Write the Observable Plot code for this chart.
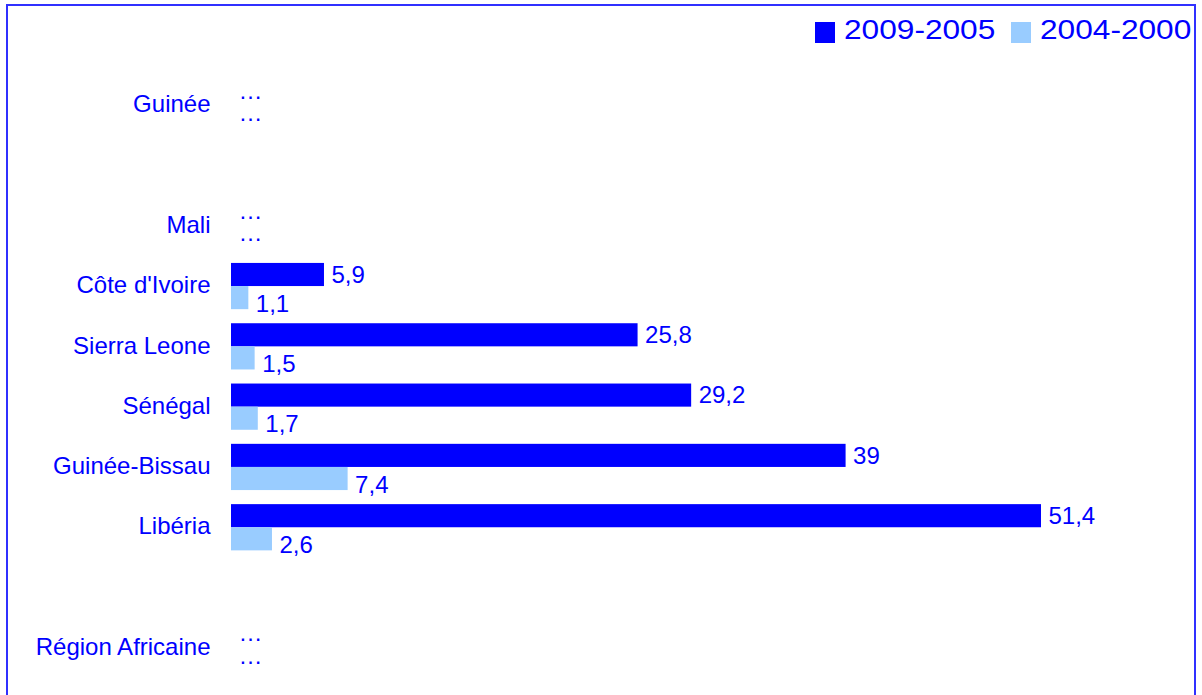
<!DOCTYPE html>
<html>
<head>
<meta charset="utf-8">
<script src="https://cdn.jsdelivr.net/npm/d3@7"></script>
<script src="https://cdn.jsdelivr.net/npm/@observablehq/plot@0.6"></script>
<style>
  html, body { margin: 0; padding: 0; background: #fff; }
  #wrap { position: relative; width: 1202px; height: 695px; overflow: hidden; font-family: "Liberation Sans", Arial, sans-serif; }
  #frame { position: absolute; left: 6px; top: 4px; width: 1186px; height: 720px; border: 2px solid #3030ff; }
  #chart { position: absolute; left: 0; top: 0; }
  .lg-sw { position: absolute; top: 22px; width: 20px; height: 21px; }
  .lg-tx { position: absolute; top: 16px; font-size: 28px; line-height: 28px; color: #0000ff; white-space: nowrap; transform: scaleX(1.13); transform-origin: left center; }
</style>
</head>
<body>
<div id="wrap">
  <div id="frame"></div>
  <div id="chart"></div>
  <div id="legend"></div>
</div>
<script>
const categories = ["Guinée", "", "Mali", "Côte d'Ivoire", "Sierra Leone", "Sénégal", "Guinée-Bissau", "Libéria", " ", "Région Africaine"];
const series = ["2009-2005", "2004-2000"];
const values2009_2005 = [null, null, null, 5.9, 25.8, 29.2, 39, 51.4, null, null];
const values2004_2000 = [null, null, null, 1.1, 1.5, 1.7, 7.4, 2.6, null, null];
const colors = ["#0000ff", "#99ccff"];

const rows = [];
categories.forEach((c, i) => {
  [values2009_2005[i], values2004_2000[i]].forEach((v, k) => {
    rows.push({cat: c, series: series[k], value: v, blank: c.trim() === ""});
  });
});
const bars = rows.filter(d => d.value != null);
const nums = rows.filter(d => d.value != null);
const dots = rows.filter(d => d.value == null && !d.blank);
const fmt = v => String(v).replace(".", ",");

const chart = Plot.plot({
  width: 1202,
  height: 695,
  marginLeft: 231,
  marginRight: 161,
  marginTop: 75,
  marginBottom: 17,
  style: {fontFamily: "'Liberation Sans', Arial, sans-serif", fontSize: "24px", color: "#0000ff", background: "transparent", overflow: "visible"},
  x: {domain: [0, 51.4], axis: null},
  y: {domain: series, padding: 0, axis: null, round: false},
  fy: {domain: categories, paddingInner: 0.2333, paddingOuter: 0.1167, round: false, label: null},
  color: {domain: series, range: colors},
  marks: [
    Plot.axisFy({anchor: "left", tickSize: 0, tickPadding: 21, dy: -1, fontSize: 24, fill: "#0000ff", label: null}),
    Plot.barX(bars, {x: "value", y: "series", fy: "cat", fill: "series"}),
    Plot.text(nums.filter(d => d.series === series[0]), {x: "value", y: "series", fy: "cat", text: d => fmt(d.value), textAnchor: "start", dx: 7, dy: 0, fill: "#0000ff", fontSize: 24}),
    Plot.text(nums.filter(d => d.series === series[1]), {x: "value", y: "series", fy: "cat", text: d => fmt(d.value), textAnchor: "start", dx: 7, dy: 6, fill: "#0000ff", fontSize: 24}),
    Plot.text(dots.filter(d => d.series === series[0]), {x: () => 0, y: "series", fy: "cat", text: () => "…", textAnchor: "start", dx: 7, dy: -3, fill: "#0000ff", fontSize: 24}),
    Plot.text(dots.filter(d => d.series === series[1]), {x: () => 0, y: "series", fy: "cat", text: () => "…", textAnchor: "start", dx: 7, dy: -4, fill: "#0000ff", fontSize: 24})
  ]
});
document.getElementById("chart").appendChild(chart);

const legend = document.getElementById("legend");
const legendX = [[815, 844], [1011, 1040]];
series.forEach((s, i) => {
  const sw = document.createElement("div");
  sw.className = "lg-sw";
  sw.style.left = legendX[i][0] + "px";
  sw.style.background = colors[i];
  legend.appendChild(sw);
  const tx = document.createElement("div");
  tx.className = "lg-tx";
  tx.style.left = legendX[i][1] + "px";
  tx.textContent = s;
  legend.appendChild(tx);
});
</script>
</body>
</html>
